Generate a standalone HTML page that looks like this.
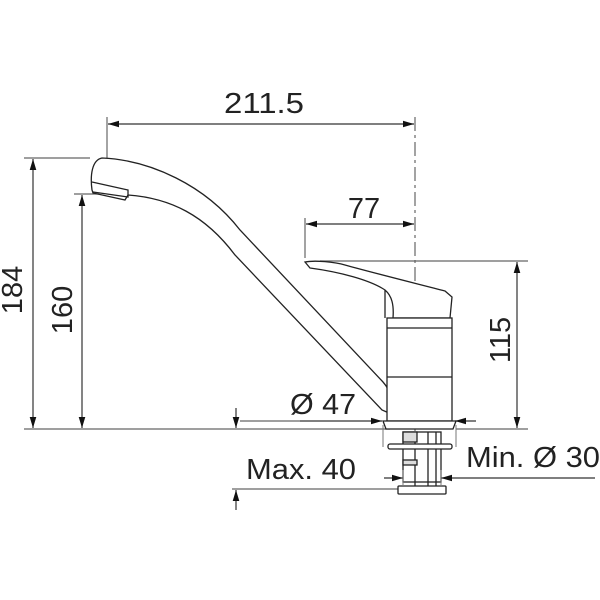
<!DOCTYPE html>
<html><head><style>body{margin:0;background:#fff}svg{display:block}text{font-family:"Liberation Sans",sans-serif;fill:#222}</style></head>
<body>
<svg width="600" height="600" viewBox="0 0 600 600" xmlns="http://www.w3.org/2000/svg">
<defs>
<marker id="a" viewBox="0 0 10 6" refX="10" refY="3" markerWidth="11" markerHeight="7" orient="auto-start-reverse" markerUnits="userSpaceOnUse"><path d="M0,0L10,3L0,6z" fill="#111"/></marker>
</defs>
<g stroke="#666" stroke-width="1.2" fill="none">
<line x1="107" y1="117" x2="107" y2="192"/>
<line x1="415" y1="117" x2="415" y2="470" stroke-dasharray="14,4,3,4"/>
<line x1="305" y1="218" x2="305" y2="258"/>
<line x1="24" y1="158" x2="90" y2="158"/>
<line x1="74" y1="194" x2="102" y2="194"/>
<line x1="24" y1="429" x2="390" y2="429"/>
<line x1="456" y1="429" x2="528" y2="429"/>
<line x1="320" y1="261" x2="528" y2="261"/>
<line x1="232" y1="489" x2="400" y2="489"/>
<line x1="240" y1="421" x2="300" y2="421"/>
</g>
<g stroke="#333" stroke-width="1.2" fill="none">
<line x1="108" y1="124" x2="414" y2="124" marker-start="url(#a)" marker-end="url(#a)"/>
<line x1="306" y1="224" x2="414" y2="224" marker-start="url(#a)" marker-end="url(#a)"/>
<line x1="33" y1="159" x2="33" y2="428" marker-start="url(#a)" marker-end="url(#a)"/>
<line x1="82" y1="195" x2="82" y2="428" marker-start="url(#a)" marker-end="url(#a)"/>
<line x1="517" y1="262" x2="517" y2="428" marker-start="url(#a)" marker-end="url(#a)"/>
<line x1="300" y1="421" x2="382" y2="421" marker-end="url(#a)"/>
<line x1="476" y1="421" x2="455" y2="421" marker-end="url(#a)"/>
<line x1="236" y1="408" x2="236" y2="428" marker-end="url(#a)"/>
<line x1="236" y1="510" x2="236" y2="490" marker-end="url(#a)"/>
<line x1="384" y1="478" x2="403" y2="478" marker-end="url(#a)"/>
<line x1="595" y1="478" x2="441" y2="478" marker-end="url(#a)"/>
</g>
<g stroke="#222" stroke-width="1.3" fill="#fff">
<path d="M92,190 C90,175 92,160 102,158 C150,160 205,185 240,230 L383,382 C392,392 394,405 389,413 L382,410 L235,255 C205,215 170,198 128,195 L125,200 L93,193 Z"/>
<path d="M92,182 L128,190 L128,197 L93,192" fill="none"/>
<path d="M305,262 L310,268 C340,272 370,280 385,290 C392,296 394,305 393,318 L450,318 L452,297 L445,291 C410,282 370,272 345,265 C335,262 315,260 305,262 Z"/>
<line x1="385" y1="290" x2="385" y2="318"/>
<rect x="387" y="318" width="65" height="103"/>
<line x1="387" y1="328" x2="452" y2="328"/>
<line x1="387" y1="377" x2="452" y2="377"/>
<path d="M383,421 L456,421 L453,429 L386,429 Z"/>
<rect x="403" y="432" width="38" height="50" fill="#fff"/>
<line x1="415" y1="432" x2="415" y2="488"/>
<line x1="428" y1="432" x2="428" y2="488"/>
<line x1="436" y1="432" x2="436" y2="488"/>
<rect x="403" y="432" width="14" height="10" fill="#ddd"/>
<rect x="388" y="444" width="64" height="5" rx="2"/>
<rect x="403" y="460" width="14" height="5" fill="#ddd"/>
<rect x="398" y="486" width="48" height="8" rx="1"/>
</g>
<g stroke="#777" stroke-width="1" fill="none">
<line x1="383" y1="425" x2="383" y2="447"/>
<line x1="456" y1="425" x2="456" y2="447"/>
<line x1="403" y1="470" x2="403" y2="486"/>
<line x1="441" y1="470" x2="441" y2="486"/>
</g>
<g font-size="29">
<text x="264" y="113" text-anchor="middle" textLength="80" lengthAdjust="spacingAndGlyphs">211.5</text>
<text x="364" y="218" text-anchor="middle">77</text>
<text x="290" y="414" textLength="66" lengthAdjust="spacingAndGlyphs">Ø 47</text>
<text x="246" y="479" textLength="110" lengthAdjust="spacingAndGlyphs">Max. 40</text>
<text x="466" y="467" textLength="134" lengthAdjust="spacingAndGlyphs">Min. Ø 30</text>
<text transform="translate(22,290) rotate(-90)" text-anchor="middle">184</text>
<text transform="translate(72,310) rotate(-90)" text-anchor="middle">160</text>
<text transform="translate(510,340) rotate(-90)" text-anchor="middle">115</text>
</g>
</svg>
</body></html>
